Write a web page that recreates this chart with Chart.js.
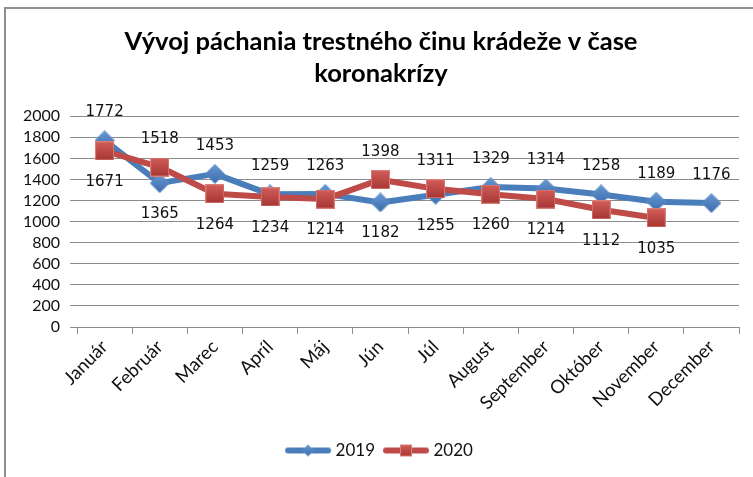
<!DOCTYPE html>
<html><head><meta charset="utf-8">
<script src="https://cdn.jsdelivr.net/npm/chart.js@4"></script>
<style>
html,body{margin:0;padding:0;background:#fff;}
#wrap{position:relative;width:753px;height:477px;overflow:hidden;}
#frame{position:absolute;left:4px;top:7px;right:-5px;bottom:-5px;border-left:2px solid #8f8f8f;border-top:2px solid #8f8f8f;pointer-events:none}
canvas{position:absolute;left:0;top:0}
</style></head><body>
<div id="wrap"><canvas id="c" width="753" height="477"></canvas><div id="frame"></div></div>
<script>
const categories = ['Január','Február','Marec','Apríl','Máj','Jún','Júl','August','September','Október','November','December'];
const values2019 = [1772,1365,1453,1259,1263,1182,1255,1329,1314,1258,1189,1176];
const values2020 = [1671,1518,1264,1234,1214,1398,1311,1260,1214,1112,1035,null];
const seriesNames = ['2019','2020'];
const yMin = 0, yMax = 2000, yStep = 200;
const titleLines = ['Vývoj páchania trestného činu krádeže v čase','koronakrízy'];

const BLUE = '#4a7ebb', RED = '#be4b48';

function diamond(size, top, bot, stroke){
  const c=document.createElement('canvas'); c.width=size; c.height=size;
  const g=c.getContext('2d'); const h=size/2;
  const gr=g.createLinearGradient(0,0,0,size); gr.addColorStop(0,top); gr.addColorStop(1,bot);
  g.beginPath(); g.moveTo(h,0.5); g.lineTo(size-0.5,h); g.lineTo(h,size-0.5); g.lineTo(0.5,h); g.closePath();
  g.fillStyle=gr; g.fill(); g.strokeStyle=stroke; g.lineWidth=1; g.stroke();
  return c;
}
function square(size, top, bot, stroke){
  const c=document.createElement('canvas'); c.width=size; c.height=size;
  const g=c.getContext('2d');
  const gr=g.createLinearGradient(0,0,0,size); gr.addColorStop(0,top); gr.addColorStop(1,bot);
  g.fillStyle=gr; g.fillRect(0,0,size,size);
  g.strokeStyle=stroke; g.lineWidth=1; g.strokeRect(0.5,0.5,size-1,size-1);
  return c;
}
function legendImg(color, marker){
  const w=48,h=16; const c=document.createElement('canvas'); c.width=w; c.height=h;
  const g=c.getContext('2d');
  g.strokeStyle=color; g.lineWidth=6; g.lineCap='round';
  g.beginPath(); g.moveTo(4,h/2); g.lineTo(w-4,h/2); g.stroke();
  g.drawImage(marker,(w-marker.width)/2,(h-marker.height)/2);
  return c;
}
const blueMarker = diamond(20,'#6a9ad6','#3a6aa8','#5a8cc8');
const redMarker = square(19,'#d25e5a','#a63533','#d97d79');
const blueLeg = legendImg(BLUE, diamond(12,'#6a9ad6','#3a6aa8','#5a8cc8'));
const redLeg = legendImg(RED, square(12,'#d25e5a','#a63533','#d97d79'));

const dataLabels = {
  id:'dataLabels',
  afterDatasetsDraw(chart){
    const ctx=chart.ctx; ctx.save();
    ctx.font='15px "DejaVu Sans"'; ctx.fillStyle='#111'; ctx.textAlign='center'; ctx.textBaseline='middle';
    chart.data.datasets.forEach((ds,i)=>{
      const meta=chart.getDatasetMeta(i);
      meta.data.forEach((el,j)=>{
        const v=ds.data[j]; if(v==null) return;
        const others=chart.data.datasets.map(d=>d.data[j]).filter(x=>x!=null);
        const isTop = v===Math.max(...others);
        ctx.fillText(String(v), el.x, isTop ? el.y-28 : el.y+31);
      });
    });
    ctx.restore();
  }
};

new Chart(document.getElementById('c'),{
  type:'line',
  data:{labels:categories,datasets:[
    {label:seriesNames[0],data:values2019,borderColor:BLUE,borderWidth:6,pointStyle:blueMarker,order:2,borderJoinStyle:'round',tension:0},
    {label:seriesNames[1],data:values2020,borderColor:RED,borderWidth:6,pointStyle:redMarker,order:1,borderJoinStyle:'round',tension:0}
  ]},
  options:{
    responsive:false, animation:false, devicePixelRatio:1, events:[],
    layout:{padding:{left:23,right:14,top:8,bottom:8}},
    plugins:{
      tooltip:{enabled:false},
      title:{display:true,text:titleLines,color:'#000',font:{family:'Lato',weight:'bold',size:25.5,lineHeight:1.24},padding:{top:18,bottom:27}},
      legend:{position:'bottom',labels:{usePointStyle:true,pointStyleWidth:38,color:'#111',font:{family:'Lato',size:17},padding:12,
        sort:(a,b)=>a.datasetIndex-b.datasetIndex,
        generateLabels(chart){
          const items=Chart.defaults.plugins.legend.labels.generateLabels(chart);
          items.forEach(it=>{it.pointStyle = it.datasetIndex===0?blueLeg:redLeg;});
          return items;
        }}}
    },
    scales:{
      x:{offset:true,grid:{offset:true,drawOnChartArea:false,color:'#8c8c8c',tickLength:7},border:{color:'#8c8c8c'},
        ticks:{color:'#111',font:{family:'Lato',size:18.5},minRotation:45,maxRotation:45,padding:2,autoSkip:false},
        afterFit(s){s.height=103;}},
      y:{min:yMin,max:yMax,grid:{color:'#8c8c8c',tickLength:7},border:{display:false},
        ticks:{stepSize:yStep,autoSkip:false,color:'#111',font:{family:'Lato',size:16},padding:10,callback:v=>String(v)},
        afterFit(s){s.width=54;}}
    }
  },
  plugins:[dataLabels]
});
</script>
</body></html>
